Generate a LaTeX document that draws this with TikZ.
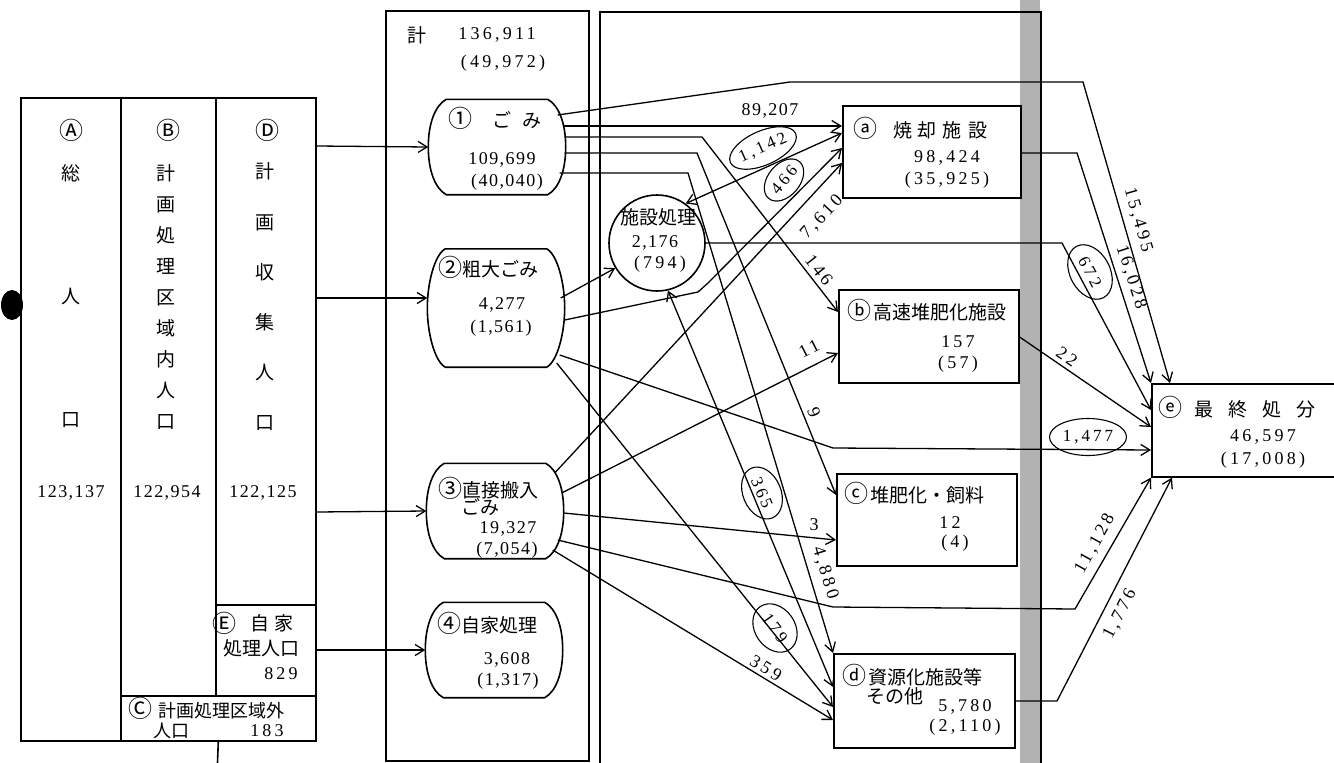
\documentclass[tikz,border=0pt]{standalone}
\usepackage{fontspec}
\setmainfont{Liberation Serif}
\newfontfamily\jp{Noto Sans CJK JP}
\newfontfamily\numfont[LetterSpace=8]{Liberation Serif}
\newfontfamily\widefont[LetterSpace=18]{Liberation Serif}
\usepackage{tikz}
\usetikzlibrary{calc}
\usetikzlibrary{arrows.meta}
\usetikzlibrary{shapes.geometric}
% enlarged circled mark
\newcommand{\mk}[1]{{\fontsize{24}{24}\selectfont#1}}
% flat-topped outline round a node
\newcommand{\drawbarrel}[1]{%
  \draw[box] ([shift={(18,0)}]#1.north west) -- ([shift={(-18,0)}]#1.north east)
    .. controls ([shift={(-7,6)}]#1.north east) and ([shift={(0,-24)}]#1.east) .. (#1.east)
    .. controls ([shift={(0,24)}]#1.east) and ([shift={(-7,-6)}]#1.south east) .. ([shift={(-18,0)}]#1.south east)
    -- ([shift={(18,0)}]#1.south west)
    .. controls ([shift={(7,-6)}]#1.south west) and ([shift={(0,24)}]#1.west) .. (#1.west)
    .. controls ([shift={(0,-24)}]#1.west) and ([shift={(7,6)}]#1.north west) .. ([shift={(18,0)}]#1.north west) -- cycle;}

\begin{document}
\begin{tikzpicture}[x=1pt, y=-1pt,
    box/.style={line width=1.6pt},
    col/.style={draw, line width=1.6pt, anchor=north west, inner sep=0pt},
    barrel/.style={minimum width=137pt, minimum height=95pt, inner sep=0pt},
    flow/.style={line width=1.3pt, -{Straight Barb[length=9pt,width=11pt]}},
    flowboth/.style={line width=1.3pt, {Straight Barb[length=9pt,width=11pt]}-{Straight Barb[length=9pt,width=11pt]}},
    jtxt/.style={font=\jp\fontsize{19}{22}\selectfont, inner sep=0pt},
    num/.style={font=\numfont\fontsize{18}{21}\selectfont, inner sep=0pt},
    wnum/.style={font=\widefont\fontsize{18}{21}\selectfont, inner sep=0pt},
    memo/.style={draw, ellipse, line width=1.1pt, inner sep=0pt, font=\widefont\fontsize{17}{20}\selectfont}]
            \useasboundingbox (0,0) rectangle (1334,763);
            % Binding strip
            \fill[black!30]                                                   (1020,0) rectangle (1040,763);
            \fill                                                             (12,305) ellipse [x radius=11pt, y radius=15pt];
            % Population columns
            \node[col, minimum width=100pt, minimum height=643pt] (popA) at ( 20, 97) {};
            \node[col, minimum width= 95pt, minimum height=598pt] (popB) at (120, 97) {};
            \node[col, minimum width=100pt, minimum height=507pt] (popD) at (215, 97) {};
            \node[col, minimum width=100pt, minimum height= 91pt] (popE) at (215,604) {};
            \node[col, minimum width=195pt, minimum height= 45pt] (popC) at (120,695) {};
            \draw[box]                                                        (popC.south) -- (217.5,763);
            \node[jtxt] (popAk) at ( 71,130) {\mk{Ⓐ}};
            \node[jtxt] (popBk) at (168,130) {\mk{Ⓑ}};
            \node[jtxt] (popDk) at (267,130) {\mk{Ⓓ}};
            \node[jtxt, align=center, font=\jp\fontsize{19}{123}\selectfont] (popAt) at ( 71,296) {総\\人\\口};
            \node[jtxt, align=center, font=\jp\fontsize{19}{31}\selectfont]  (popBt) at (166,297) {計\\画\\処\\理\\区\\域\\内\\人\\口};
            \node[jtxt, align=center, font=\jp\fontsize{19}{50.2}\selectfont] (popDt) at (265,297) {計\\画\\収\\集\\人\\口};
            \node[num] (popAn) at ( 71,493) {123,137};
            \node[num] (popBn) at (167,493) {122,954};
            \node[num] (popDn) at (263,493) {122,125};
            \node[jtxt] (popEk) at (224,623) {\mk{Ⓔ}};
            \node[jtxt] (popEt) at (272,623) {自\hspace{6pt}家};
            \node[jtxt] (popEu) at (261,648) {処理人口};
            \node[wnum] (popEn) at (281,674) {829};
            \node[jtxt, font=\jp\fontsize{18}{20}\selectfont] (popCt) at (206,708) {\mk{Ⓒ}\hspace{6pt}計画処理区域外};
            \node[jtxt, font=\jp\fontsize{18}{20}\selectfont] (popCu) at (171,731) {人口};
            \node[wnum] (popCn) at (267,731) {183};
            % Totals and kinds of waste
            \node[col, minimum width=203pt, minimum height=750pt] (total) at (385,10) {};
            \node[jtxt] (totalk) at (417, 35) {計};
            \node[wnum] (totaln) at (497, 35) {136,911};
            \node[wnum] (totalp) at (503, 63) {(49,972)};
            \node[barrel] (gomi)  at (497,147) {};
            \node[barrel, minimum height=118pt] (sodai) at (496,308) {};
            \node[barrel] (chok)  at (495,511) {};
            \node[barrel] (jika)  at (494,650) {};
            \drawbarrel{gomi}
            \drawbarrel{sodai}
            \drawbarrel{chok}
            \drawbarrel{jika}
            \node[jtxt] (gomit)  at (495,118) {\mk{①}\hspace{20pt}ご\hspace{12pt}み};
            \node[num]  (gomin)  at (502,160) {109,699};
            \node[num]  (gomip)  at (507,182) {(40,040)};
            \node[jtxt] (sodait) at (488,267) {\mk{②}粗大ごみ};
            \node[num]  (sodain) at (502,305) {4,277};
            \node[num]  (sodaip) at (501,328) {(1,561)};
            \node[jtxt] (chokt)  at (488,488) {\mk{③}直接搬入};
            \node[jtxt] (choku)  at (480,507) {ごみ};
            \node[num]  (chokn)  at (508,529) {19,327};
            \node[num]  (chokp)  at (507,550) {(7,054)};
            \node[jtxt] (jikat)  at (487,623) {\mk{④}自家処理};
            \node[num]  (jikan)  at (507,660) {3,608};
            \node[num]  (jikap)  at (508,681) {(1,317)};
            % Treatment area
            \draw[line width=1.6pt]                                           (600,763) -- (600,12) -- (1041,12) -- (1041,763);
            \node[draw, circle, line width=1.6pt, minimum size=96pt, inner sep=0pt] (shisetsu) at (657,243) {};
            \node[jtxt] (shisetsut) at (658,217) {施設処理};
            \node[num]  (shisetsun) at (655,243) {2,176};
            \node[wnum] (shisetsup) at (660,264) {(794)};
            \node[col, minimum width=178pt, minimum height=92pt] (inc)  at ( 842,105) {};
            \node[col, minimum width=180pt, minimum height=93pt] (fast) at ( 838,289) {};
            \node[col, minimum width=180pt, minimum height=92pt] (comp) at ( 836,473) {};
            \node[col, minimum width=181pt, minimum height=94pt] (recy) at ( 833,653) {};
            \node[col, minimum width=184pt, minimum height=93pt] (land) at (1151,383) {};
            \node[jtxt] (inct)  at ( 920,128) {\mk{ⓐ}\hspace{16pt}焼\hspace{6pt}却\hspace{6pt}施\hspace{6pt}設};
            \node[wnum] (incn)  at ( 947,158) {98,424};
            \node[wnum] (incp)  at ( 947,180) {(35,925)};
            \node[jtxt] (fastt) at ( 927,310) {\mk{ⓑ}\hspace{2pt}高速堆肥化施設};
            \node[wnum] (fastn) at ( 958,342) {157};
            \node[wnum] (fastp) at ( 958,364) {(57)};
            \node[jtxt] (compt) at ( 914,493) {\mk{ⓒ}\hspace{2pt}堆肥化・飼料};
            \node[wnum] (compn) at ( 950,523) {12};
            \node[wnum] (compp) at ( 955,543) {(4)};
            \node[jtxt] (recyt) at ( 912,675) {\mk{ⓓ}\hspace{2pt}資源化施設等};
            \node[jtxt] (recyu) at ( 895,696) {その他};
            \node[wnum] (recyn) at ( 965,707) {5,780};
            \node[wnum] (recyp) at ( 965,727) {(2,110)};
            \node[jtxt] (landt) at (1237,407) {\mk{ⓔ}\hspace{12pt}最\hspace{15pt}終\hspace{15pt}処\hspace{15pt}分};
            \node[wnum] (landn) at (1263,437) {46,597};
            \node[wnum] (landp) at (1263,460) {(17,008)};
            % Inputs
            \draw[flow] (popD.east |- 0,146) -- (gomi.west);
            \draw[flow] (popD.east |- 0,298) -- (sodai.west |- 0,298);
            \draw[flow] (popD.east |- 0,512) -- (chok.west);
            \draw[flow] (popE.east |- 0,650) -- (jika.west);
            % From gomi
            \draw[flow] ([shift={(-8,-32)}]gomi.east) -- (790,82) -- (1083,82) -- ([shift={(19,0)}]land.north west);
            \draw[flow] ([shift={(-3,-21)}]gomi.east) -- (inc.west |- 0,126);
            \draw[flow] ([shift={(-1,-10)}]gomi.east) -- (702,137) -- (fast.west |- 0,312);
            \draw[flow] ([shift={(-1,6)}]gomi.east)   -- (697,153) -- (comp.west |- 0,495);
            \draw[flow] ([shift={(-6,26)}]gomi.east)  -- (688,173) -- (recy.north west);
            % From sodai
            \draw[flow] ([shift={(-4,-10)}]sodai.east) -- (shisetsu.211);
            \draw[flow] ([shift={(0,12)}]sodai.east)   -- (698,292) -- (708,283) -- (inc.west |- 0,148);
            \draw[flow] ([shift={(-5,47)}]sodai.east)  -- (833,448) -- (land.west |- 0,450);
            \draw[flow] ([shift={(-8,55)}]sodai.east)  -- (recy.west |- 0,707);
            % From chok
            \draw[flow] ([shift={(-9,-38)}]chok.east) -- (inc.west |- 0,163);
            \draw[flow] ([shift={(-2,-18)}]chok.east) -- (fast.west |- 0,353);
            \draw[flow] ([shift={(0,2)}]chok.east)    -- (comp.west |- 0,540);
            \draw[flow] ([shift={(-6,29)}]chok.east)  -- (833,607) -- (1075,609) -- (land.south west);
            \draw[flow] ([shift={(-11,39)}]chok.east) -- (recy.west |- 0,720);
            % From shisetsu
            \draw[flowboth] (shisetsu.54)  -- (inc.west |- 0,133);
            \draw[flow]     (shisetsu.east) -- (1062,243) -- (land.west |- 0,410);
            \draw[flowboth] (shisetsu.283) -- (recy.west |- 0,687);
            % To land
            \draw[flow] (inc.east |- 0,153)  -- (1077,153) -- (land.north west);
            \draw[flow] (fast.east |- 0,337) -- (land.west |- 0,427);
            \draw[flow] (recy.east |- 0,701) -- (1057,701) -- ([shift={(21,0)}]land.south west);
            % Amounts
            \node[num]              (q89207) at ( 770,111) {89,207};
            \node[wnum, rotate=-74] (q15495) at (1138,220) {15,495};
            \node[wnum, rotate=-72] (q16028) at (1131,277) {16,028};
            \node[wnum, rotate=-35] (q22)    at (1067,357) {22};
            \node[wnum, rotate=61]  (q11128) at (1095,544) {11,128};
            \node[wnum, rotate=63]  (q1776)  at (1120,614) {1,776};
            \node[wnum, rotate=-52] (q146)   at ( 819,270) {146};
            \node[wnum, rotate=-68] (q9)     at ( 814,412) {9};
            \node[wnum, rotate=-73] (q4880)  at ( 825,573) {4,880};
            \node[wnum, rotate=47]  (q7610)  at ( 822,217) {7,610};
            \node[wnum, rotate=27]  (q11)    at ( 809,349) {11};
            \node[num]              (q3)     at ( 814,525) {3};
            \node[wnum, rotate=-31] (q359)   at ( 766,668) {359};
            % Hand marks
            \node[memo, minimum width=62pt, minimum height=34pt, rotate=24]  (m1142) at ( 763,148) {1,142};
            \node[memo, minimum width=48pt, minimum height=32pt, rotate=50]  (m466)  at ( 784,180) {466};
            \node[memo, minimum width=58pt, minimum height=40pt, rotate=-62] (m672)  at (1090,272) {672};
            \node[memo, minimum width=77pt, minimum height=37pt]             (m1477) at (1088,437) {1,477};
            \node[memo, minimum width=54pt, minimum height=38pt, rotate=-67] (m365)  at ( 762,493) {365};
            \node[memo, minimum width=52pt, minimum height=40pt, rotate=-55] (m179)  at ( 775,628) {179};
        \end{tikzpicture}
\end{document}
